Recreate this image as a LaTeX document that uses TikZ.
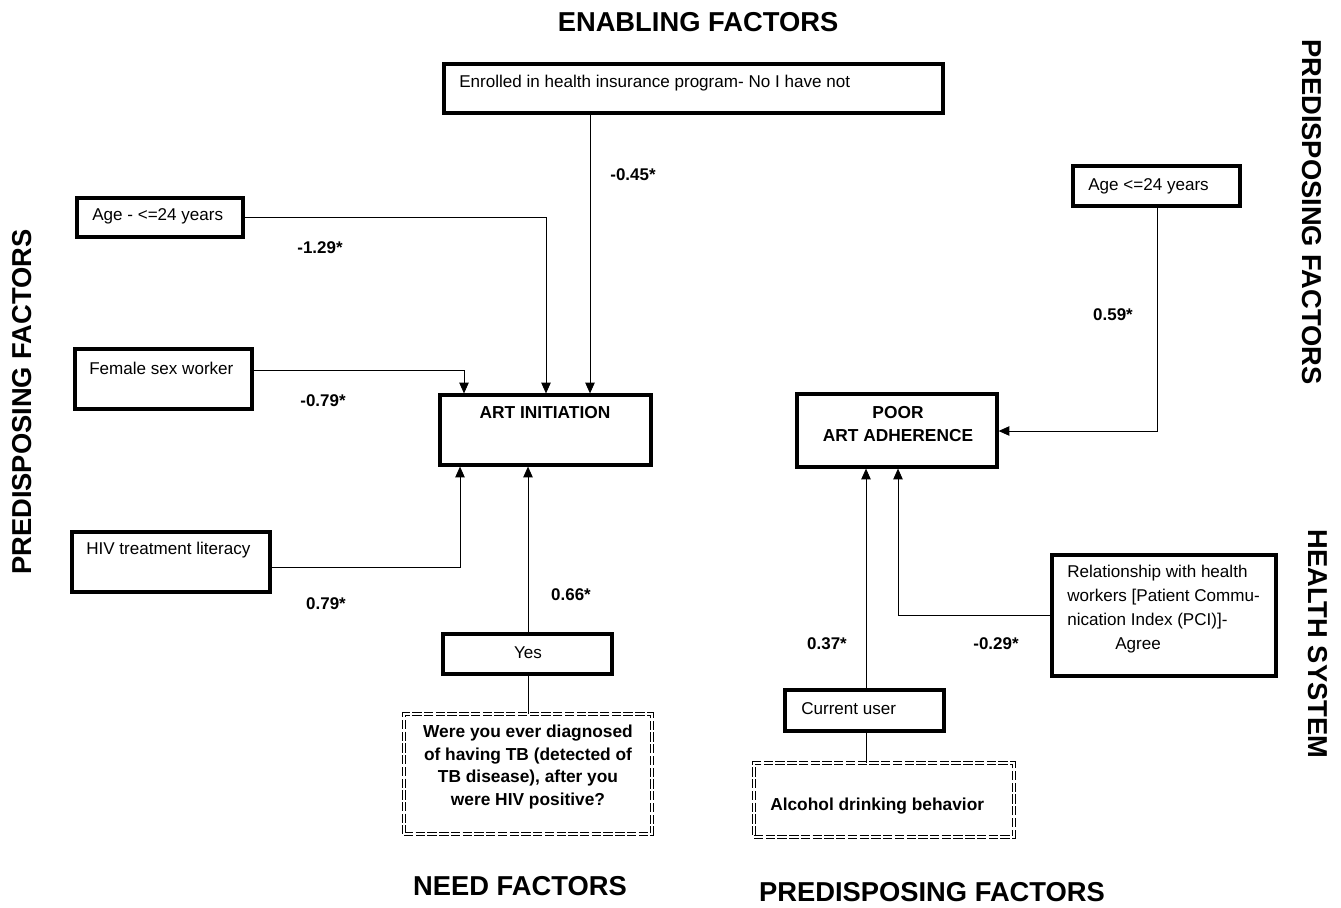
\documentclass[tikz,border=0pt]{standalone}
\usepackage{fontspec}
\setmainfont{Liberation Sans}
\usetikzlibrary{arrows.meta,fit}
\begin{document}
\begin{tikzpicture}[x=0.75pt,y=-0.75pt,
  box/.style={draw,line width=2.4pt,inner sep=0pt},
  dbox/.style={draw,line width=0.55pt,double,double distance=1.7pt,dash pattern=on 7pt off 1.8pt,inner sep=0pt},
  txt/.style={font=\fontsize{12.8pt}{15pt}\selectfont,inner sep=0pt},
  btxt/.style={font=\bfseries\fontsize{13pt}{15pt}\selectfont,inner sep=0pt},
  coef/.style={font=\bfseries\fontsize{12.7pt}{15pt}\selectfont,inner sep=0pt},
  title/.style={font=\bfseries\fontsize{20.5pt}{24pt}\selectfont,inner sep=0pt},
  conn/.style={line width=0.7pt},
  arr/.style={line width=0.7pt,-{Triangle[length=8pt,width=7pt]}}]
\useasboundingbox (0,0) rectangle (1341,907);

% titles
\node[title] (tEn) at (698,22) {ENABLING FACTORS};
\node[title,rotate=90] (tPL) at (22,402) {PREDISPOSING FACTORS};
\node[title,rotate=-90] (tPR) at (1312,212) {PREDISPOSING FACTORS};
\node[title,rotate=-90] (tHS) at (1318,644) {HEALTH SYSTEM};
\node[title] (tNF) at (520,886) {NEED FACTORS};
\node[title] (tPB) at (932,892) {PREDISPOSING FACTORS};

% boxes
\node[box,fit={(444,64) (943,113)}] (enr) {};
\node[txt,anchor=west] (enrT) at (459,83) {Enrolled in health insurance program- No I have not};

\node[box,fit={(77,198) (243,237)}] (ageL) {};
\node[txt,anchor=west] (ageLT) at (92,216) {Age - <=24 years};

\node[box,fit={(75,349) (252,409)}] (fsw) {};
\node[txt,anchor=west] (fswT) at (89,368) {Female sex worker};

\node[box,fit={(72,532) (270,592)}] (hiv) {};
\node[txt,anchor=west] (hivT) at (86,550) {HIV treatment literacy};

\node[box,fit={(440,395) (651,465)}] (art) {};
\node[btxt] (artT) at (545,413) {ART INITIATION};

\node[box,fit={(443,634) (612,674)}] (yes) {};
\node[txt] (yesT) at (528,653) {Yes};

\node[dbox,fit={(404,714) (652,834)}] (tb) {};
\node[btxt,align=center,font=\bfseries\fontsize{13pt}{17pt}\selectfont] (tbT) at (528,767)
  {Were you ever diagnosed\\of having TB (detected of\\TB disease), after you\\were HIV positive?};

\node[box,fit={(1073,166) (1240,206)}] (ageR) {};
\node[txt,anchor=west] (ageRT) at (1088,186) {Age <=24 years};

\node[box,fit={(797,394) (997,467)}] (poor) {};
\node[btxt,align=center,font=\bfseries\fontsize{13pt}{17.5pt}\selectfont] (poorT) at (898,424) {POOR\\ART ADHERENCE};

\node[box,fit={(1052,555) (1276,676)}] (rel) {};
\node[txt,anchor=north west,align=left,font=\fontsize{12.8pt}{18pt}\selectfont] (relT) at (1067,565)
  {Relationship with health\\workers [Patient Commu-\\nication Index (PCI)]-\\\hspace*{36pt}Agree};

\node[box,fit={(785,690) (944,731)}] (cur) {};
\node[txt,anchor=west] (curT) at (801,709) {Current user};

\node[dbox,fit={(754,763) (1014,837)}] (alc) {};
\node[btxt,anchor=west] (alcT) at (770,806) {Alcohol drinking behavior};

% helper coordinates
\coordinate (xAge) at (546,0);
\coordinate (xEnr) at (590,0);
\coordinate (xFsw) at (464,370);
\coordinate (xHiv) at (460,567);
\coordinate (xYes) at (528,0);
\coordinate (xAgeR) at (1157,431);
\coordinate (xCur) at (866,0);
\coordinate (xRel) at (898,0);

% connectors
\draw[arr] (ageL.east) -| (xAge |- art.north);
\draw[arr] (enr.south -| xEnr) -- (xEnr |- art.north);
\draw[arr] (fsw.east |- xFsw) -| (xFsw |- art.north);
\draw[arr] (hiv.east |- xHiv) -| (xHiv |- art.south);
\draw[arr] (yes.north -| xYes) -- (xYes |- art.south);
\draw[conn] (yes.south -| xYes) -- (xYes |- tb.north);

\draw[arr] (ageR.south -| xAgeR) |- (poor.east |- xAgeR);
\draw[arr] (cur.north -| xCur) -- (xCur |- poor.south);
\draw[arr] (rel.west) -| (xRel |- poor.south);
\draw[conn] (cur.south -| xCur) -- (xCur |- alc.north);

% coefficients
\node[coef] (c1) at (633,175) {-0.45*};
\node[coef] (c2) at (320,248) {-1.29*};
\node[coef] (c3) at (323,401) {-0.79*};
\node[coef] (c4) at (326,604) {0.79*};
\node[coef] (c5) at (571,595) {0.66*};
\node[coef] (c6) at (1113,315) {0.59*};
\node[coef] (c7) at (827,644) {0.37*};
\node[coef] (c8) at (996,644) {-0.29*};
\end{tikzpicture}
\end{document}
